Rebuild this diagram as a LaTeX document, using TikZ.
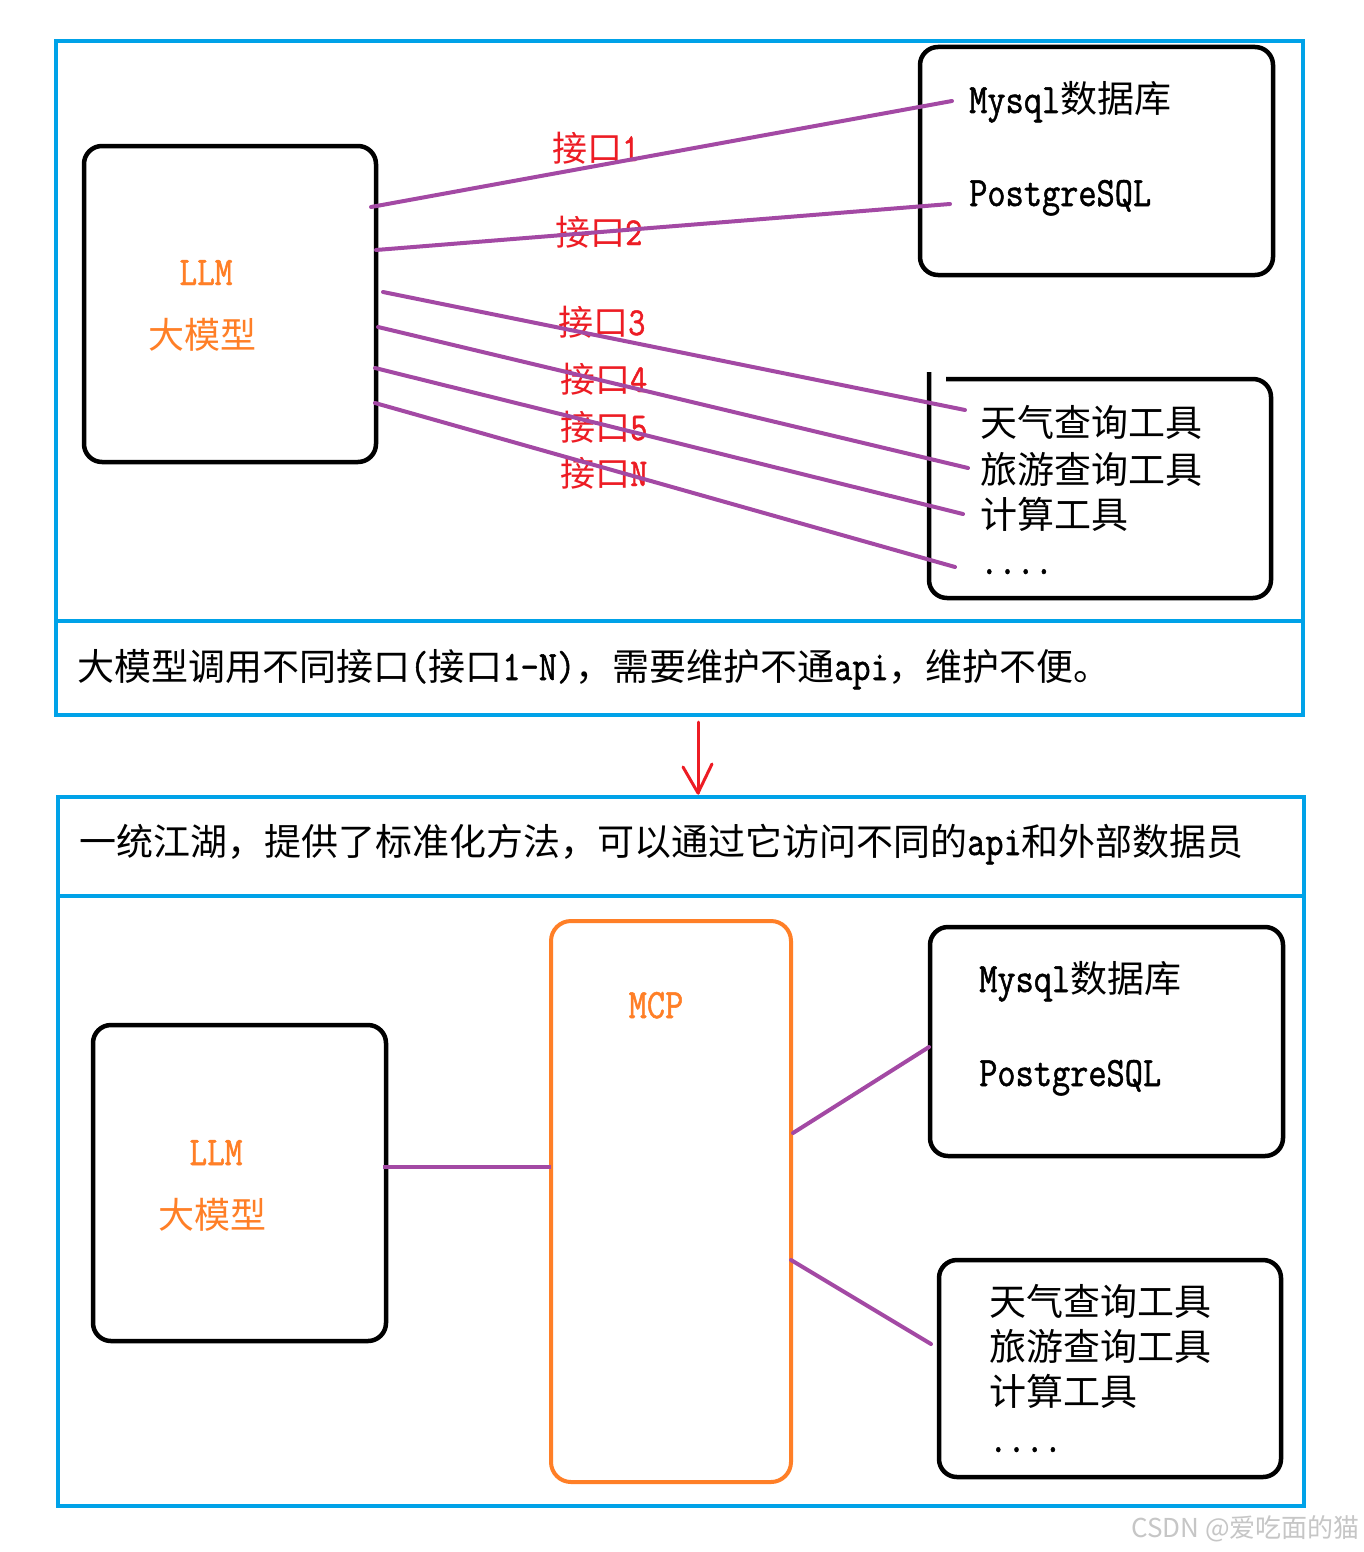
\documentclass[tikz,border=0pt]{standalone}
\usepackage{fontspec}
\setmainfont[Scale=1.13,FakeStretch=0.845,FakeBold=1.2]{Latin Modern Mono}
\newfontfamily\cjk{Noto Sans CJK SC}
\newcommand\zhtxt[1]{{\cjk #1}}
\definecolor{mblue}{HTML}{00A2E8}
\definecolor{mpurple}{HTML}{A349A4}
\definecolor{morange}{HTML}{FF7F27}
\definecolor{mred}{HTML}{ED1C24}
\tikzset{
  bluebox/.style={draw=mblue, line width=4.5pt, inner sep=0pt},
  blackbox/.style={draw=black, line width=4.5pt, rounded corners=18pt, inner sep=0pt},
  mcpbox/.style={draw=morange, line width=4pt, rounded corners=20pt, inner sep=0pt},
  purpleline/.style={draw=mpurple, line width=4pt, line cap=round},
  txt/.style={anchor=base west, inner sep=0pt, font=\fontsize{37}{44}\selectfont},
  captxt/.style={anchor=base west, inner sep=0pt, font=\fontsize{37}{44}\selectfont},
  ctxt/.style={anchor=base, inner sep=0pt, text=morange, font=\fontsize{36}{44}\selectfont},
  lbl/.style={anchor=base west, inner sep=0pt, text=mred, font=\fontsize{35}{44}\selectfont},
  redarrow/.style={draw=mred, line width=3pt, line cap=round, line join=round},
}
\begin{document}
\begin{tikzpicture}[x=1pt,y=-1pt]
\useasboundingbox[fill=white] (0,0) rectangle (1364,1552);

% ===== top panel =====
\node[bluebox, minimum width=1247pt, minimum height=580pt] (p1) at (679.5,331) {};
\node[bluebox, minimum width=1247pt, minimum height=94pt] (c1) at (679.5,668) {};
\node[captxt] (c1t) at (77,680) {\zhtxt{大模型调用不同接口}(\zhtxt{接口}1-N)\zhtxt{，需要维护不通}api\zhtxt{，维护不便。}};

\node[blackbox, minimum width=292pt, minimum height=316pt] (llm1) at (230,304) {};
\node[ctxt] (llm1a) at (206,285) {LLM};
\node[ctxt] (llm1b) at (202,348) {\zhtxt{大模型}};

\node[blackbox, minimum width=353pt, minimum height=228pt] (db1) at (1096.5,161) {};
\node[txt] (db1a) at (969,113) {Mysql\zhtxt{数据库}};
\node[txt] (db1b) at (969,206) {PostgreSQL};

\draw[draw=black, line width=4.5pt, rounded corners=18pt] (946,379) -- (1271,379) -- (1271,598) -- (929,598) -- (929,372);
\node[txt] (t1a) at (980,436) {\zhtxt{天气查询工具}};
\node[txt] (t1b) at (980,483) {\zhtxt{旅游查询工具}};
\node[txt] (t1c) at (980,528) {\zhtxt{计算工具}};
\node[txt] (t1d) at (980,574) {....};

\node[lbl] (k1) at (552,161) {\zhtxt{接口}1};
\node[lbl] (k2) at (555,245) {\zhtxt{接口}2};
\node[lbl] (k3) at (558,335) {\zhtxt{接口}3};
\node[lbl] (k4) at (560,392) {\zhtxt{接口}4};
\node[lbl] (k5) at (560,440) {\zhtxt{接口}5};
\node[lbl] (kn) at (560,486) {\zhtxt{接口}N};

\coordinate (a1) at (371,207); \coordinate (e1) at (952,101);
\coordinate (a2) at (376,250); \coordinate (e2) at (950,204);
\coordinate (a3) at (383,292); \coordinate (e3) at (965,410);
\coordinate (a4) at (378,327); \coordinate (e4) at (968,468);
\coordinate (a5) at (375,368); \coordinate (e5) at (963,514);
\coordinate (a6) at (375,403); \coordinate (e6) at (955,567);
\draw[purpleline] (a1) -- (e1);
\draw[purpleline] (a2) -- (e2);
\draw[purpleline] (a3) -- (e3);
\draw[purpleline] (a4) -- (e4);
\draw[purpleline] (a5) -- (e5);
\draw[purpleline] (a6) -- (e6);

% ===== arrow =====
\coordinate (arrTop) at (698,722);
\coordinate (arrTip) at (698,793);
\coordinate (arrL) at (683,767);
\coordinate (arrR) at (712,764);
\draw[redarrow] (arrTop) -- (arrTip);
\draw[redarrow] (arrL) -- (arrTip) -- (arrR);

% ===== bottom panel =====
\node[bluebox, minimum width=1246pt, minimum height=99pt] (c2) at (681,846.5) {};
\node[bluebox, minimum width=1246pt, minimum height=610pt] (p2) at (681,1201) {};
\node[captxt] (c2t) at (79,855) {\zhtxt{一统江湖，提供了标准化方法，可以通过它访问不同的}api\zhtxt{和外部数据员}};

\node[blackbox, minimum width=293pt, minimum height=316pt] (llm2) at (239.5,1183) {};
\node[ctxt] (llm2a) at (216,1165) {LLM};
\node[ctxt] (llm2b) at (212,1228) {\zhtxt{大模型}};

\node[mcpbox, minimum width=240pt, minimum height=561pt] (mcp) at (671,1201.5) {};
\node[ctxt, font=\fontsize{37}{44}\selectfont] (mcpt) at (656,1018) {MCP};

\node[blackbox, minimum width=353pt, minimum height=229pt] (db2) at (1106.5,1041.5) {};
\node[txt] (db2a) at (979,992) {Mysql\zhtxt{数据库}};
\node[txt] (db2b) at (979,1086) {PostgreSQL};

\node[blackbox, minimum width=342pt, minimum height=217pt] (tools2) at (1110,1368.5) {};
\node[txt] (t2a) at (989,1315) {\zhtxt{天气查询工具}};
\node[txt] (t2b) at (989,1360) {\zhtxt{旅游查询工具}};
\node[txt] (t2c) at (989,1405) {\zhtxt{计算工具}};
\node[txt] (t2d) at (989,1452) {....};

\coordinate (b0a) at (383,1167); \coordinate (b0b) at (551,1167);
\coordinate (b1a) at (793,1133); \coordinate (b1b) at (929,1047);
\coordinate (b2a) at (791,1260); \coordinate (b2b) at (931,1344);
\draw[purpleline, line cap=butt] (b0a) -- (b0b);
\draw[purpleline] (b1a) -- (b1b);
\draw[purpleline] (b2a) -- (b2b);

% watermark
\node[anchor=east, inner sep=0pt, text=gray!45, font=\cjk\fontsize{26}{30}\selectfont] (wm) at (1360,1529) {CSDN @爱吃面的猫};
\end{tikzpicture}
\end{document}
